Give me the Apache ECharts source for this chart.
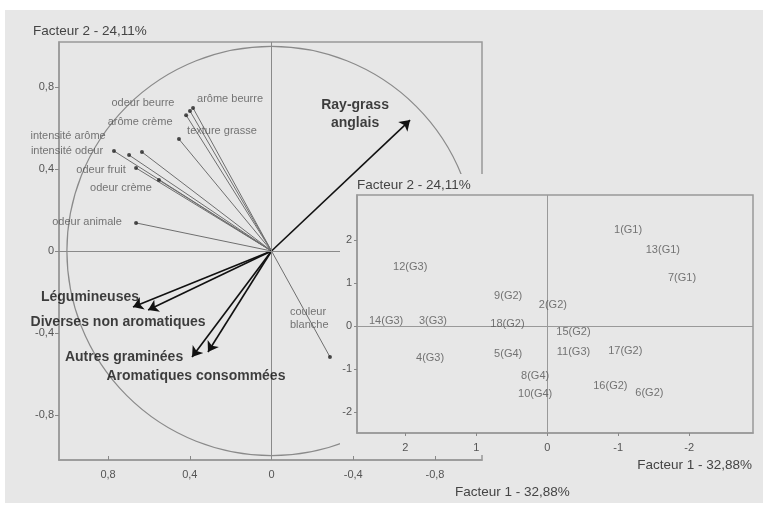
<!DOCTYPE html>
<html><head><meta charset="utf-8">
<script src="https://cdn.jsdelivr.net/npm/echarts@6.0.0/dist/echarts.min.js"></script>
<style>
html,body{margin:0;padding:0;background:#fff;width:770px;height:505px;overflow:hidden}
#bg{position:absolute;left:5px;top:10px;width:758px;height:493px;background:#e7e7e7}
#c{position:absolute;left:0;top:0;width:770px;height:505px}
</style></head>
<body><div id="bg"></div><div id="c"></div>
<script>
// ---- DATA ----
const titleF2 = 'Facteur 2 - 24,11%';
const titleF1 = 'Facteur 1 - 32,88%';

// sensory variables (thin vectors) : Facteur 1, Facteur 2 correlations
const thinNames = ['arôme beurre','odeur beurre','arôme crème','texture grasse','intensité arôme','intensité odeur','','odeur fruit','odeur crème','odeur animale','couleur\nblanche'];
const thinF1 = [0.384, 0.399, 0.418, 0.453, 0.697, 0.771, 0.634, 0.663, 0.551, 0.663, -0.286];
const thinF2 = [0.698, 0.683, 0.663, 0.546, 0.468, 0.488, 0.483, 0.405, 0.346, 0.137, -0.517];

// botanical variables (bold arrows)
const boldNames = ['Ray-grass\nanglais','Légumineuses','Diverses non aromatiques','Autres graminées','Aromatiques consommées'];
const boldF1 = [-0.678, 0.678, 0.604, 0.389, 0.311];
const boldF2 = [0.639, -0.273, -0.288, -0.517, -0.493];

// individuals (inset)
const indNames = ['1(G1)','13(G1)','7(G1)','12(G3)','9(G2)','2(G2)','14(G3)','3(G3)','18(G2)','15(G2)','11(G3)','17(G2)','4(G3)','5(G4)','8(G4)','10(G4)','16(G2)','6(G2)'];
const indF1 = [-1.14, -1.63, -1.90, 1.93, 0.55, -0.08, 2.27, 1.61, 0.56, -0.37, -0.37, -1.10, 1.65, 0.55, 0.17, 0.17, -0.89, -1.44];
const indF2 = [2.23, 1.77, 1.12, 1.37, 0.70, 0.49, 0.12, 0.12, 0.05, -0.14, -0.60, -0.58, -0.74, -0.65, -1.16, -1.58, -1.40, -1.56];

const mainTicks = [-0.8, -0.4, 0, 0.4, 0.8];
const insetTicks = [-2, -1, 0, 1, 2];

// ---- STYLE (label placement) ----
const thinLabelOffset = {
  'arôme beurre':[37,-9], 'odeur beurre':[-47,-8], 'arôme crème':[-46,7], 'texture grasse':[43,-8],
  'intensité arôme':[-61,-19], 'intensité odeur':[-47,0], 'odeur fruit':[-35,2], 'odeur crème':[-38,8],
  'odeur animale':[-49,-1], 'couleur\nblanche':[-40,-38]
};
const boldLabelOffset = {
  'Ray-grass\nanglais':[-55,-6], 'Légumineuses':[-43,-10], 'Diverses non aromatiques':[-30,12],
  'Autres graminées':[-68,0], 'Aromatiques consommées':[-12,24]
};

const BG = '#e7e7e7';
const FONT = 'Liberation Sans, Arial, sans-serif';
const comma = v => String(v).replace('.', ',');

const chart = echarts.init(document.getElementById('c'), null, {renderer:'canvas'});

const axisLineStyle = {color:'#999', width:1.5};
const titleStyle = {fontSize:13.5, fontWeight:'normal', color:'#444', fontFamily:FONT};

chart.setOption({
  animation:false,
  textStyle:{fontFamily:FONT},
  title:[
    {text:titleF2, left:33, top:24, padding:0, z:30, textStyle:titleStyle},
    {text:titleF2, left:357, top:178, padding:0, z:30, textStyle:titleStyle},
    {text:titleF1, right:18, top:458, padding:0, z:30, textStyle:titleStyle},
    {text:titleF1, left:455, top:485, padding:0, z:30, textStyle:titleStyle}
  ],
  graphic:{elements:[
    {type:'rect', left:340, top:195, shape:{width:423, height:260}, style:{fill:BG}, z:10, silent:true},
    {type:'rect', left:360, top:174, shape:{width:403, height:22}, style:{fill:BG}, z:10, silent:true}
  ]},
  grid:[
    {left:59, top:42, width:423, height:418, show:true, borderColor:'#999', borderWidth:1.5, backgroundColor:'transparent', z:0},
    {left:357, top:195, width:396, height:238, show:true, borderColor:'#999', borderWidth:1.5, backgroundColor:BG, z:20}
  ],
  xAxis:[
    {type:'value', gridIndex:0, inverse:true, min:-1.03, max:1.04,
     axisLine:{show:true, onZero:false, lineStyle:axisLineStyle},
     axisTick:{show:true, inside:true, length:4, customValues:mainTicks, lineStyle:{color:'#888'}},
     axisLabel:{customValues:mainTicks, formatter:comma, fontSize:11, color:'#555', margin:9},
     splitLine:{show:false}},
    {type:'value', gridIndex:1, inverse:true, min:-2.9, max:2.68, z:21,
     axisLine:{show:true, onZero:false, lineStyle:axisLineStyle},
     axisTick:{show:true, inside:false, length:3, customValues:insetTicks, lineStyle:{color:'#888'}},
     axisLabel:{customValues:insetTicks, fontSize:11, color:'#555', margin:9},
     splitLine:{show:false}}
  ],
  yAxis:[
    {type:'value', gridIndex:0, min:-1.02, max:1.02,
     axisLine:{show:true, onZero:false, lineStyle:axisLineStyle},
     axisTick:{show:true, inside:false, length:4, customValues:mainTicks, lineStyle:{color:'#888'}},
     axisLabel:{customValues:mainTicks, formatter:comma, fontSize:11, color:'#555', margin:5},
     splitLine:{show:false}},
    {type:'value', gridIndex:1, min:-2.49, max:3.05, z:21,
     axisLine:{show:true, onZero:false, lineStyle:axisLineStyle},
     axisTick:{show:true, inside:false, length:3, customValues:insetTicks, lineStyle:{color:'#888'}},
     axisLabel:{customValues:insetTicks, fontSize:11, color:'#555', margin:5},
     splitLine:{show:false}}
  ],
  series:[
    // correlation circle (radius 1)
    {type:'custom', xAxisIndex:0, yAxisIndex:0, silent:true, clip:false, z:1,
     data:[[0,0]],
     renderItem:(params, api)=>{
       const c = api.coord([0,0]);
       const s = api.size([1,1]);
       return {type:'circle', shape:{cx:c[0], cy:c[1], r:(s[0]+s[1])/2},
               style:{fill:'none', stroke:'#8a8a8a', lineWidth:1.2}};
     }},
    // thin vectors
    {type:'lines', coordinateSystem:'cartesian2d', xAxisIndex:0, yAxisIndex:0, z:2, silent:true,
     symbol:['none','none'],
     lineStyle:{color:'#6e6e6e', width:1, opacity:1},
     data:thinNames.map((n,i)=>({coords:[[0,0],[thinF1[i], thinF2[i]]]}))},
    // thin vector end points + labels, and main zero lines
    {type:'scatter', xAxisIndex:0, yAxisIndex:0, z:3, silent:true,
     symbolSize:4, itemStyle:{color:'#222'},
     data:thinNames.map((n,i)=>({value:[thinF1[i], thinF2[i], n],
        label:{offset:thinLabelOffset[n]||[0,0], align:n.indexOf('\n')>=0?'left':'center'}})),
     label:{show:true, position:'inside', formatter:p=>p.data.value[2], fontSize:11, color:'#555', lineHeight:13},
     markLine:{silent:true, symbol:['none','none'], label:{show:false}, animation:false,
       lineStyle:{color:'#8a8a8a', width:1, type:'solid'},
       data:[{xAxis:0},{yAxis:0}]}},
    // bold arrows
    {type:'lines', coordinateSystem:'cartesian2d', xAxisIndex:0, yAxisIndex:0, z:4, silent:true,
     symbol:['none','arrow'], symbolSize:[7,10],
     lineStyle:{color:'#111', width:1.6, opacity:1},
     data:boldNames.map((n,i)=>({coords:[[0,0],[boldF1[i], boldF2[i]]]}))},
    // bold labels
    {type:'scatter', xAxisIndex:0, yAxisIndex:0, z:5, silent:true, symbolSize:0,
     data:boldNames.map((n,i)=>({value:[boldF1[i], boldF2[i], n], label:{offset:boldLabelOffset[n]}})),
     label:{show:true, position:'inside', formatter:p=>p.data.value[2], fontSize:14, fontWeight:'bold', color:'#111', lineHeight:18}},
    // inset individuals
    {type:'scatter', xAxisIndex:1, yAxisIndex:1, z:22, silent:true, symbolSize:0,
     data:indNames.map((n,i)=>[indF1[i], indF2[i], n]),
     label:{show:true, position:'inside', formatter:p=>p.data[2], fontSize:11, color:'#555'},
     markLine:{silent:true, symbol:['none','none'], label:{show:false}, animation:false, z:21,
       lineStyle:{color:'#999', width:1, type:'solid'},
       data:[{xAxis:0},{yAxis:0}]}}
  ]
});
</script>
</body></html>
